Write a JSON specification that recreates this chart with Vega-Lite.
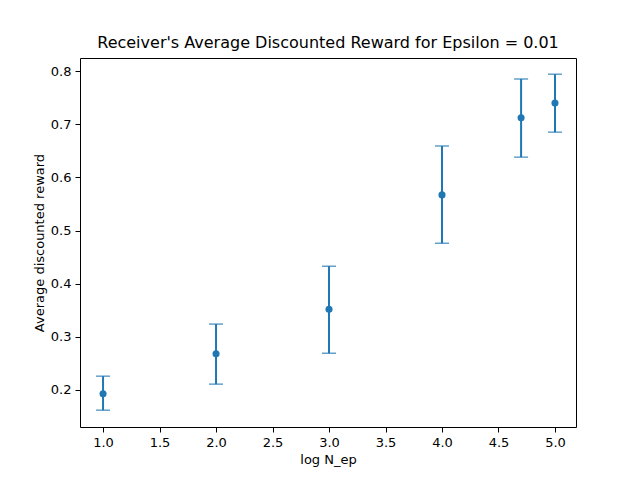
{
  "$schema": "https://vega.github.io/schema/vega-lite/v6.json",
  "width": 496,
  "height": 369,
  "autosize": "none",
  "padding": {"left": 80, "top": 58, "right": 64, "bottom": 53},
  "background": "white",
  "config": {
    "view": {"stroke": "black", "strokeWidth": 1},
    "axis": {"grid": false, "domain": false, "tickColor": "black", "labelColor": "black", "titleColor": "black", "labelFont": "DejaVu Sans", "titleFont": "DejaVu Sans", "labelFontSize": 13, "titleFontSize": 13, "titleFontWeight": "normal", "tickSize": 5, "labelPadding": 4},
    "title": {"font": "DejaVu Sans", "fontSize": 16, "fontWeight": "normal", "color": "black", "offset": 7}
  },
  "title": "Receiver's Average Discounted Reward for Epsilon = 0.01",
  "data": {
    "values": [
      {"n": 1, "r": 0.193, "lo": 0.162, "hi": 0.226},
      {"n": 2, "r": 0.268, "lo": 0.211, "hi": 0.324},
      {"n": 3, "r": 0.352, "lo": 0.269, "hi": 0.433},
      {"n": 4, "r": 0.567, "lo": 0.476, "hi": 0.659},
      {"n": 4.7, "r": 0.712, "lo": 0.638, "hi": 0.785},
      {"n": 5, "r": 0.740, "lo": 0.685, "hi": 0.794}
    ]
  },
  "encoding": {
    "x": {"field": "n", "type": "quantitative", "title": "log N_ep", "scale": {"domain": [0.796, 5.186], "nice": false, "zero": false}, "axis": {"values": [1, 1.5, 2, 2.5, 3, 3.5, 4, 4.5, 5], "format": ".1f"}}
  },
  "layer": [
    {
      "mark": {"type": "rule", "color": "#1f77b4", "strokeWidth": 2},
      "encoding": {
        "y": {"field": "lo", "type": "quantitative", "title": "Average discounted reward", "scale": {"domain": [0.1304, 0.8245], "nice": false, "zero": false}, "axis": {"values": [0.2, 0.3, 0.4, 0.5, 0.6, 0.7, 0.8], "format": ".1f"}},
        "y2": {"field": "hi"}
      }
    },
    {
      "mark": {"type": "tick", "orient": "horizontal", "color": "#1f77b4", "size": 14, "thickness": 1.5},
      "encoding": {"y": {"field": "lo", "type": "quantitative"}}
    },
    {
      "mark": {"type": "tick", "orient": "horizontal", "color": "#1f77b4", "size": 14, "thickness": 1.5},
      "encoding": {"y": {"field": "hi", "type": "quantitative"}}
    },
    {
      "mark": {"type": "circle", "color": "#1f77b4", "size": 50, "opacity": 1},
      "encoding": {"y": {"field": "r", "type": "quantitative"}}
    }
  ]
}
